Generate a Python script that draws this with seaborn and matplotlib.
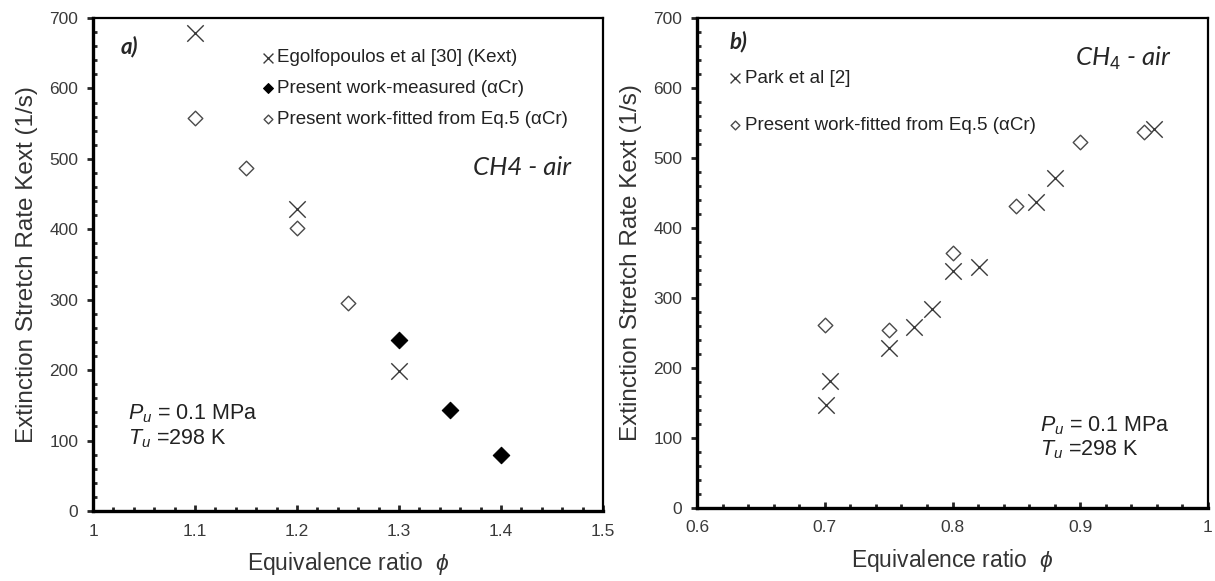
import numpy as np
import pandas as pd
import matplotlib
matplotlib.use("Agg")
import matplotlib.pyplot as plt
import seaborn as sns
from matplotlib.ticker import MultipleLocator

# ---------------- data ----------------
# Panel a
egol_phi = [1.10, 1.20, 1.30]
egol_k = [679, 429, 199]
meas_phi = [1.30, 1.35, 1.40]
meas_k = [243, 143, 80]
fita_phi = [1.10, 1.15, 1.20, 1.25]
fita_k = [558, 487, 402, 296]

# Panel b
park_phi = [0.701, 0.704, 0.750, 0.770, 0.784, 0.800, 0.821, 0.865, 0.880, 0.958]
park_k = [147, 181, 229, 258, 285, 338, 345, 437, 471, 541]
fitb_phi = [0.70, 0.75, 0.80, 0.85, 0.90, 0.95]
fitb_k = [261, 254, 364, 432, 523, 537]

xticks_a = [1.0, 1.1, 1.2, 1.3, 1.4, 1.5]
xticklabels_a = ["1", "1.1", "1.2", "1.3", "1.4", "1.5"]
xticks_b = [0.6, 0.7, 0.8, 0.9, 1.0]
xticklabels_b = ["0.6", "0.7", "0.8", "0.9", "1"]
yticks = [0, 100, 200, 300, 400, 500, 600, 700]

sns.set_style("white")
plt.rcParams["font.family"] = ["Liberation Sans", "DejaVu Sans"]
plt.rcParams["mathtext.fontset"] = "custom"
plt.rcParams["mathtext.rm"] = "Liberation Sans"
plt.rcParams["mathtext.it"] = "Liberation Sans:italic"

fig = plt.figure(figsize=(12.15, 5.81), dpi=100)
W, H = 1215, 581
ax1 = fig.add_axes([93 / W, 1 - 511 / H, 510 / W, 493 / H])
ax2 = fig.add_axes([697 / W, 1 - 508 / H, 511 / W, 490 / H])

xcol = "#3a3a3a"
dcol = "#4a4a4a"
tcol = "#3a3a3a"
LEG_FS = 13.5

def style_axes(ax, xticks, xlabels, xlim):
    ax.set_xlim(*xlim)
    ax.set_ylim(0, 700)
    ax.set_xticks(xticks)
    ax.set_xticklabels(xlabels)
    ax.set_yticks(yticks)
    ax.xaxis.set_minor_locator(MultipleLocator(0.02))
    ax.yaxis.set_minor_locator(MultipleLocator(20))
    for side in ["left", "bottom"]:
        ax.spines[side].set_linewidth(2.4)
        ax.spines[side].set_color("black")
    for side in ["top", "right"]:
        ax.spines[side].set_linewidth(1.6)
        ax.spines[side].set_color("black")
        ax.spines[side].set_visible(True)
    ax.tick_params(axis="x", which="major", direction="in", length=4, width=2,
                   labelsize=12.5, labelcolor=tcol, pad=9, bottom=True, top=False)
    ax.tick_params(axis="x", which="minor", direction="in", length=3, width=2,
                   bottom=True, top=False)
    ax.tick_params(axis="y", which="major", direction="out", length=4.5, width=2,
                   labelsize=12.5, labelcolor=tcol, pad=6, left=True, right=False)
    ax.tick_params(axis="y", which="minor", direction="in", length=3, width=2,
                   left=True, right=False)
    ax.set_xlabel(r"Equivalence ratio  $\phi$", fontsize=16.5, color="#333333", labelpad=8)
    ax.set_ylabel("Extinction Stretch Rate Kext (1/s)", fontsize=17.5, color="#333333",
                  labelpad=8)
    ax.grid(False)

# ---- Panel a ----
df_eg = pd.DataFrame({"phi": egol_phi, "k": egol_k})
df_me = pd.DataFrame({"phi": meas_phi, "k": meas_k})
df_fa = pd.DataFrame({"phi": fita_phi, "k": fita_k})

sns.scatterplot(data=df_eg, x="phi", y="k", ax=ax1, marker="x", s=140, color=xcol,
                linewidth=1.0, label="Egolfopoulos et al [30] (Kext)", zorder=3)
sns.scatterplot(data=df_me, x="phi", y="k", ax=ax1, marker="D", s=70, color="black",
                edgecolor="black", linewidth=0.8, label="Present work-measured (\u03b1Cr)", zorder=3)
sns.scatterplot(data=df_fa, x="phi", y="k", ax=ax1, marker="D", s=55, facecolor="white",
                edgecolor=dcol, linewidth=1.0, label="Present work-fitted from Eq.5 (\u03b1Cr)", zorder=3)

style_axes(ax1, xticks_a, xticklabels_a, (1.0, 1.5))
ax1.legend(loc="center left", bbox_to_anchor=(0.332, 0.857), frameon=False, fontsize=LEG_FS,
           handlelength=0.6, handletextpad=0.2, labelspacing=0.72, markerscale=0.6,
           borderaxespad=0, borderpad=0, labelcolor="#222222")

ax1.text(0.054, 0.943, "a)", transform=ax1.transAxes, fontsize=16, fontweight="bold",
         fontstyle="italic", ha="left", va="center", family=["Lato", "DejaVu Sans"])
ax1.text(0.937, 0.696, "CH4 - air", transform=ax1.transAxes, fontsize=18.5,
         fontstyle="italic", ha="right", va="center", family=["Lato", "DejaVu Sans"])
ax1.text(0.068, 0.197, r"$P_u$ = 0.1 MPa", transform=ax1.transAxes, fontsize=15.5,
         ha="left", va="center", color="#222222")
ax1.text(0.068, 0.146, r"$T_u$ =298 K", transform=ax1.transAxes, fontsize=15.5,
         ha="left", va="center", color="#222222")

# ---- Panel b ----
df_pk = pd.DataFrame({"phi": park_phi, "k": park_k})
df_fb = pd.DataFrame({"phi": fitb_phi, "k": fitb_k})

sns.scatterplot(data=df_pk, x="phi", y="k", ax=ax2, marker="x", s=140, color=xcol,
                linewidth=1.0, label="Park et al [2]", zorder=3)
sns.scatterplot(data=df_fb, x="phi", y="k", ax=ax2, marker="D", s=55, facecolor="white",
                edgecolor=dcol, linewidth=1.0, label="Present work-fitted from Eq.5 (\u03b1Cr)", zorder=3)

style_axes(ax2, xticks_b, xticklabels_b, (0.6, 1.0))
ax2.legend(loc="center left", bbox_to_anchor=(0.064, 0.829), frameon=False, fontsize=LEG_FS,
           handlelength=0.6, handletextpad=0.2, labelspacing=1.6, markerscale=0.6,
           borderaxespad=0, borderpad=0, labelcolor="#222222")

ax2.text(0.064, 0.952, "b)", transform=ax2.transAxes, fontsize=16, fontweight="bold",
         fontstyle="italic", ha="left", va="center", family=["Lato", "DejaVu Sans"])
ax2.text(0.928, 0.918, r"CH$_4$ - air", transform=ax2.transAxes, fontsize=18.5,
         fontstyle="italic", ha="right", va="center", family=["Lato", "DejaVu Sans"])
ax2.text(0.671, 0.167, r"$P_u$ = 0.1 MPa", transform=ax2.transAxes, fontsize=15.5,
         ha="left", va="center", color="#222222")
ax2.text(0.671, 0.12, r"$T_u$ =298 K", transform=ax2.transAxes, fontsize=15.5,
         ha="left", va="center", color="#222222")

fig.savefig("out.png", dpi=100)
